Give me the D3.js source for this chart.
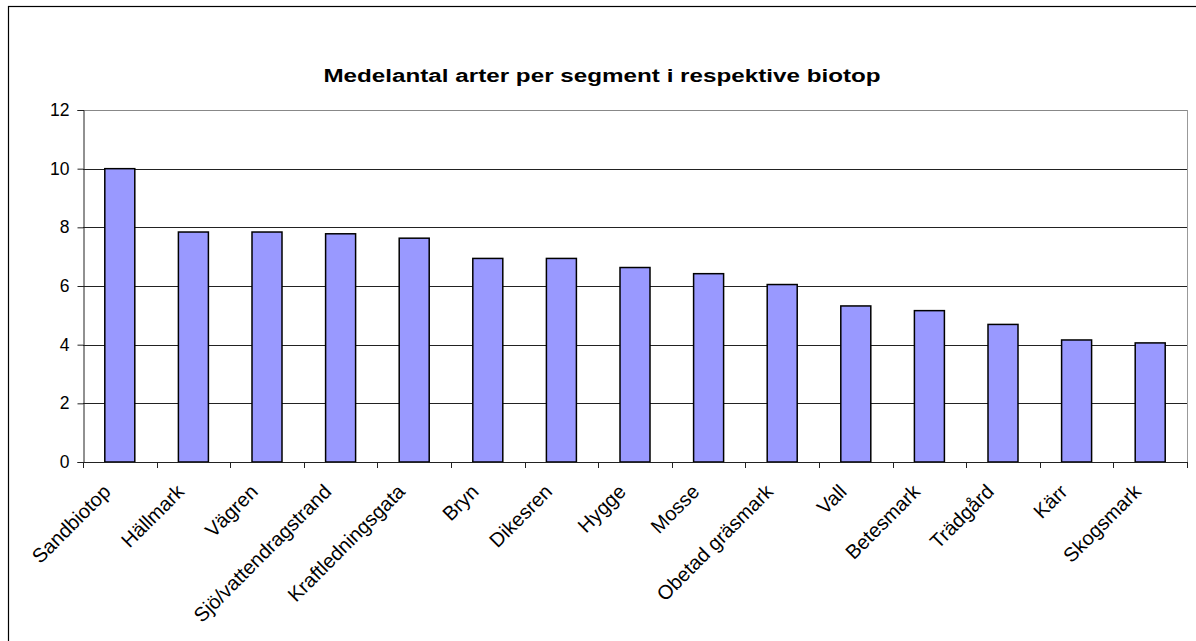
<!DOCTYPE html>
<html>
<head>
<meta charset="utf-8">
<script src="https://cdn.jsdelivr.net/npm/d3@7"></script>
<style>
  html, body { margin: 0; padding: 0; background: #fff; }
  svg { display: block; font-family: "Liberation Sans", Arial, sans-serif; }
</style>
</head>
<body>
<svg id="chart" width="1196" height="641"></svg>
<script>
// Biotopes and mean number of species per segment
const categories = ["Sandbiotop", "Hällmark", "Vägren", "Sjö/vattendragstrand", "Kraftledningsgata",
  "Bryn", "Dikesren", "Hygge", "Mosse", "Obetad gräsmark", "Vall", "Betesmark", "Trädgård", "Kärr", "Skogsmark"];
const values = [10.0, 7.84, 7.84, 7.78, 7.63, 6.94, 6.94, 6.63, 6.42, 6.05, 5.32, 5.16, 4.69, 4.16, 4.06];
const yTicks = [0, 2, 4, 6, 8, 10, 12];
const title = "Medelantal arter per segment i respektive biotop";

const svg = d3.select("#chart");
const plot = { left: 83, right: 1187, top: 110, bottom: 462 };

// Outer chart frame
svg.append("rect")
  .attr("x", 8.5).attr("y", 6.5)
  .attr("width", 1200).attr("height", 700)
  .attr("fill", "#fff").attr("stroke", "#000").attr("stroke-width", 1.2);

const x = d3.scaleBand().domain(categories).range([plot.left, plot.right]).paddingInner(0).paddingOuter(0);
const y = d3.scaleLinear().domain([0, 12]).range([plot.bottom, plot.top]);

// Horizontal gridlines
svg.append("g")
  .selectAll("line")
  .data(yTicks.filter(d => d > 0))
  .join("line")
  .attr("x1", plot.left).attr("x2", plot.right)
  .attr("y1", d => Math.round(y(d)) + 0.5).attr("y2", d => Math.round(y(d)) + 0.5)
  .attr("stroke", d => d === 12 ? "#888" : "#222").attr("stroke-width", 1);

// Right border of plot area
svg.append("line")
  .attr("x1", plot.right + 0.5).attr("x2", plot.right + 0.5)
  .attr("y1", plot.top).attr("y2", plot.bottom)
  .attr("stroke", "#999").attr("stroke-width", 1);

// Bars
const barW = 30;
svg.append("g")
  .selectAll("rect")
  .data(values)
  .join("rect")
  .attr("x", (d, i) => x(categories[i]) + x.bandwidth() / 2 - barW / 2)
  .attr("y", d => y(d))
  .attr("width", barW)
  .attr("height", d => y(0) - y(d))
  .attr("fill", "#9999ff")
  .attr("stroke", "#000").attr("stroke-width", 1.5);

// Y axis
const yAxis = svg.append("g")
  .attr("transform", `translate(${plot.left + 0.5},0)`)
  .call(d3.axisLeft(y).tickValues(yTicks).tickSize(6).tickPadding(8).tickFormat(d3.format("d")));
yAxis.select(".domain").attr("stroke", "#222");
yAxis.selectAll(".tick line").attr("stroke", "#222");
yAxis.selectAll("text").attr("font-size", 17.5).attr("fill", "#000")
  .attr("font-family", "'Liberation Sans', Arial, sans-serif");

// X axis: ticks at category boundaries
const boundaries = categories.map(c => x(c)).concat([plot.right]);
const xAxisG = svg.append("g");
xAxisG.append("line")
  .attr("x1", plot.left).attr("x2", plot.right)
  .attr("y1", plot.bottom + 0.5).attr("y2", plot.bottom + 0.5)
  .attr("stroke", "#222").attr("stroke-width", 1.2);
xAxisG.selectAll("line.tick")
  .data(boundaries)
  .join("line")
  .attr("class", "tick")
  .attr("x1", d => Math.round(d) + 0.5).attr("x2", d => Math.round(d) + 0.5)
  .attr("y1", plot.bottom).attr("y2", plot.bottom + 6)
  .attr("stroke", "#222");

// Rotated category labels
xAxisG.selectAll("text")
  .data(categories)
  .join("text")
  .attr("transform", d => `translate(${x(d) + x.bandwidth() / 2 - 8},${plot.bottom + 31}) rotate(-45)`)
  .attr("text-anchor", "end")
  .attr("font-size", 20)
  .attr("fill", "#000")
  .text(d => d);

// Title (wide setting)
svg.append("text")
  .attr("transform", "translate(602,82) scale(1.31,1)")
  .attr("text-anchor", "middle")
  .attr("font-size", 18.5).attr("font-weight", "bold")
  .attr("fill", "#000")
  .text(title);
</script>
</body>
</html>
